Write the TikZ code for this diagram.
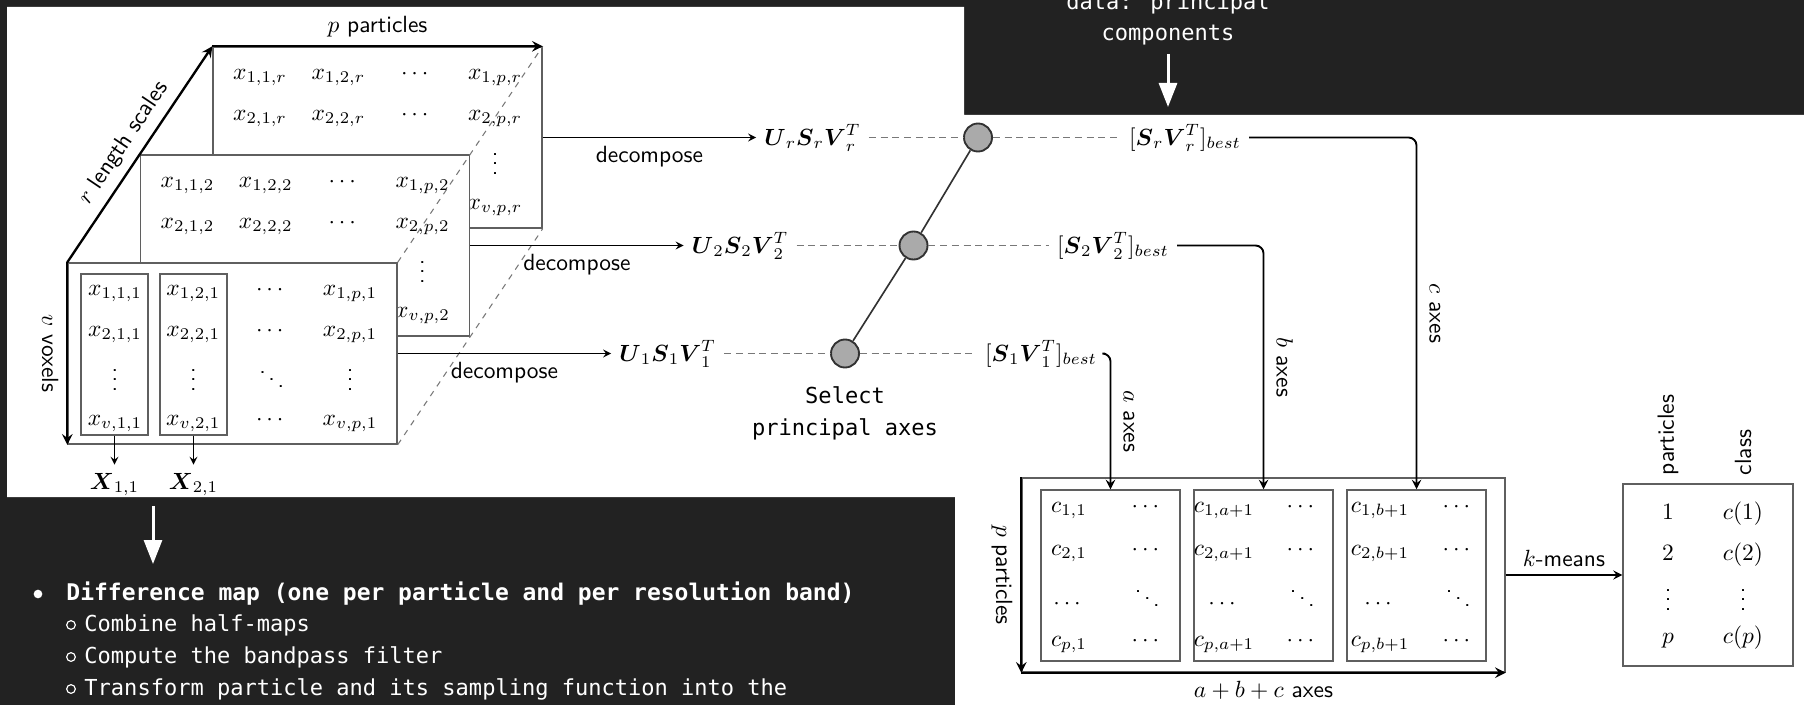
\documentclass[tikz,border=0pt]{standalone}
\usepackage{amsmath}
\usepackage{amssymb}
\usepackage{fontspec}
\newfontfamily\slidefont{DejaVu Sans Mono}
\usepackage{tikz}
\usetikzlibrary{arrows,arrows.meta,shapes,positioning}
\usepackage{xcolor}
\definecolor{slidebg}{RGB}{34,34,34}
\definecolor{boxgray}{RGB}{95,95,95}
\definecolor{dashgray}{RGB}{120,120,120}
\definecolor{pickgray}{RGB}{170,170,170}
\definecolor{rimgray}{RGB}{50,50,50}
\tikzstyle{arrow} = [->, >=stealth, line width=0.5pt]
\tikzstyle{axisarrow} = [->, >=stealth, line width=1pt]
\tikzstyle{link} = [->, >=stealth, line width=0.8pt, rounded corners=0.12cm]
\tikzstyle{slab} = [rectangle, draw=boxgray, fill=white, line width=0.6pt, minimum width=4.935cm, minimum height=2.715cm, inner sep=0pt]
\tikzstyle{colbox} = [rectangle, draw=boxgray, line width=0.6pt, minimum width=1.005cm, minimum height=2.415cm, inner sep=0pt]
\tikzstyle{cbox} = [rectangle, draw=boxgray, line width=0.6pt, minimum width=2.085cm, minimum height=2.565cm, inner sep=0pt]
\tikzstyle{frame} = [rectangle, draw=boxgray, line width=0.6pt, inner sep=0pt]
\tikzstyle{entry} = [text height=1.5ex, text depth=0.5ex, inner sep=0pt, node distance=1.175cm]
\tikzstyle{diag} = [draw=dashgray, dash pattern=on 2.5pt off 2.5pt, line width=0.45pt]
\tikzstyle{guide} = [draw=dashgray, dash pattern=on 3pt off 2pt, line width=0.5pt]
\tikzstyle{stick} = [draw=rimgray, line width=0.7pt]
\tikzstyle{pick} = [circle, draw=rimgray, fill=pickgray, line width=0.8pt, minimum size=0.42cm, inner sep=0pt]
\tikzstyle{axlabel} = [text height=1.6ex, text depth=0.2ex]
\tikzstyle{slidetext} = [text=white, inner sep=0pt, font=\slidefont\fontsize{9.4pt}{13.7pt}\selectfont]
\tikzstyle{slidearrow} = [draw=white, line width=0.045cm, -{Triangle[width=0.27cm, length=0.36cm, fill=white]}]
\tikzstyle{dot} = [circle, inner sep=0pt, minimum size=0.13cm]

\begin{document}
\begin{tikzpicture}[x=0.015cm, y=-0.015cm, font=\sffamily]
\useasboundingbox (0,0) rectangle (1804,705);
\clip (0,0) rectangle (1804,705);
% slide background
\fill[slidebg] (0,0) rectangle (1804,705);
\fill[white] (7,7) -- (964,7) -- (964,115) -- (1804,115) -- (1804,705) -- (955,705) -- (955,497) -- (7,497) -- cycle;

% back slab, length scale r
\node (lr) [slab] at (377.5,137.5) {};
\node (r11) [entry] at (260,74) {$x_{1,1,r}$};
\node (r12) [entry, right of=r11] {$x_{1,2,r}$};
\node (r13) [entry, right of=r12] {$\cdots$};
\node (r14) [entry, right of=r13] {$x_{1,p,r}$};
\node (r21) [entry] at (260,115) {$x_{2,1,r}$};
\node (r22) [entry, right of=r21] {$x_{2,2,r}$};
\node (r23) [entry, right of=r22] {$\cdots$};
\node (r24) [entry, right of=r23] {$x_{2,p,r}$};
\node (r34) [entry] at (495,169) {$\vdots$};
\node (r44) [entry] at (495,204) {$x_{v,p,r}$};

% middle slab, length scale 2
\node (l2) [slab] at (305,245.5) {};
\node (m11) [entry] at (187.5,182) {$x_{1,1,2}$};
\node (m12) [entry, right of=m11] {$x_{1,2,2}$};
\node (m13) [entry, right of=m12] {$\cdots$};
\node (m14) [entry, right of=m13] {$x_{1,p,2}$};
\node (m21) [entry] at (187.5,223) {$x_{2,1,2}$};
\node (m22) [entry, right of=m21] {$x_{2,2,2}$};
\node (m23) [entry, right of=m22] {$\cdots$};
\node (m24) [entry, right of=m23] {$x_{2,p,2}$};
\node (m34) [entry] at (422.5,277) {$\vdots$};
\node (m44) [entry] at (422.5,312) {$x_{v,p,2}$};

% front slab, length scale 1
\node (l1) [slab] at (232.5,353.5) {};
\node (fcol1) [colbox] at (114.5,354.5) {};
\node (fcol2) [colbox] at (193.5,354.5) {};
\node (f11) [entry] at (115,290) {$x_{1,1,1}$};
\node (f12) [entry, right of=f11] {$x_{1,2,1}$};
\node (f13) [entry, right of=f12] {$\cdots$};
\node (f14) [entry, right of=f13] {$x_{1,p,1}$};
\node (f21) [entry] at (115,331) {$x_{2,1,1}$};
\node (f22) [entry, right of=f21] {$x_{2,2,1}$};
\node (f23) [entry, right of=f22] {$\cdots$};
\node (f24) [entry, right of=f23] {$x_{2,p,1}$};
\node (f31) [entry] at (115,385) {$\vdots$};
\node (f32) [entry, right of=f31] {$\vdots$};
\node (f33) [entry, right of=f32] {$\ddots$};
\node (f34) [entry, right of=f33] {$\vdots$};
\node (f41) [entry] at (115,420) {$x_{v,1,1}$};
\node (f42) [entry, right of=f41] {$x_{v,2,1}$};
\node (f43) [entry, right of=f42] {$\cdots$};
\node (f44) [entry, right of=f43] {$x_{v,p,1}$};

\node (X11) [below=0.435cm of fcol1] {$\boldsymbol{X}_{1,1}$};
\node (X21) [below=0.435cm of fcol2] {$\boldsymbol{X}_{2,1}$};
\draw[arrow] (fcol1) -- (X11);
\draw[arrow] (fcol2) -- (X21);

\draw[diag] (l1.north east) -- (lr.north east);
\draw[diag] (l1.south east) -- (lr.south east);

\draw[axisarrow] (l1.north west) -- (lr.north west) node[midway, above, sloped] {$r$ length scales};
\draw[axisarrow] (lr.north west) -- (lr.north east) node[midway, above] {$p$ particles};
\draw[axisarrow] (l1.north west) -- (l1.south west) node[midway, below, sloped] {$v$ voxels};

% decompositions
\node (usvr) [right=3.2cm of lr] {$\boldsymbol{U}_r\boldsymbol{S}_r\boldsymbol{V}_r^T$};
\node (usv2) [right=3.2cm of l2] {$\boldsymbol{U}_2\boldsymbol{S}_2\boldsymbol{V}_2^T$};
\node (usv1) [right=3.2cm of l1] {$\boldsymbol{U}_1\boldsymbol{S}_1\boldsymbol{V}_1^T$};
\draw[arrow] (lr) -- (usvr) node[midway, below] {decompose};
\draw[arrow] (l2) -- (usv2) node[midway, below] {decompose};
\draw[arrow] (l1) -- (usv1) node[midway, below] {decompose};

\node (cr) [pick] at (978,137.5) {};
\node (c2) [pick] at (913.5,245.5) {};
\node (c1) [pick] at (845,353.5) {};
\draw[stick] (c1) -- (c2);
\draw[stick] (c2) -- (cr);
\node (sel) [below=0.27cm of c1, align=center, font=\slidefont\fontsize{9.4pt}{13.7pt}\selectfont, inner sep=0pt] {Select\\principal axes};

\node (bestr) at (1185,137.5) {$[\boldsymbol{S}_r\boldsymbol{V}_r^T]_{best}$};
\node (best2) at (1113,245.5) {$[\boldsymbol{S}_2\boldsymbol{V}_2^T]_{best}$};
\node (best1) at (1041,353.5) {$[\boldsymbol{S}_1\boldsymbol{V}_1^T]_{best}$};
\draw[guide] (usvr) -- (cr);
\draw[guide] (usv2) -- (c2);
\draw[guide] (usv1) -- (c1);
\draw[guide] (cr) -- (bestr);
\draw[guide] (c2) -- (best2);
\draw[guide] (c1) -- (best1);

% reduced data
\node (outer) [frame, minimum width=7.245cm, minimum height=2.91cm] at (1263.5,575) {};
\node (b1) [cbox] at (1110.5,575.5) {};
\node (b2) [cbox, right of=b1, node distance=2.295cm] {};
\node (b3) [cbox, right of=b2, node distance=2.295cm] {};

\draw[link] (bestr) -| (b3) node[pos=0.75, sloped, above=1pt, axlabel] {$c$ axes};
\draw[link] (best2) -| (b2) node[pos=0.75, sloped, above=1pt, axlabel] {$b$ axes};
\draw[link] (best1) -| (b1) node[pos=0.75, sloped, above=1pt, axlabel] {$a$ axes};

\node (a11) [entry] at (1069,507) {$c_{1,1}$};
\node (a12) [entry, right of=a11] {$\cdots$};
\node (a21) [entry] at (1069,550) {$c_{2,1}$};
\node (a22) [entry, right of=a21] {$\cdots$};
\node (a31) [entry] at (1069,604) {$\cdots$};
\node (a32) [entry, right of=a31] {$\ddots$};
\node (a41) [entry] at (1069,641) {$c_{p,1}$};
\node (a42) [entry, right of=a41] {$\cdots$};

\node (e11) [entry] at (1224,507) {$c_{1,a+1}$};
\node (e12) [entry, right of=e11] {$\cdots$};
\node (e21) [entry] at (1224,550) {$c_{2,a+1}$};
\node (e22) [entry, right of=e21] {$\cdots$};
\node (e31) [entry] at (1224,604) {$\cdots$};
\node (e32) [entry, right of=e31] {$\ddots$};
\node (e41) [entry] at (1224,641) {$c_{p,a+1}$};
\node (e42) [entry, right of=e41] {$\cdots$};

\node (g11) [entry] at (1380,507) {$c_{1,b+1}$};
\node (g12) [entry, right of=g11] {$\cdots$};
\node (g21) [entry] at (1380,550) {$c_{2,b+1}$};
\node (g22) [entry, right of=g21] {$\cdots$};
\node (g31) [entry] at (1380,604) {$\cdots$};
\node (g32) [entry, right of=g31] {$\ddots$};
\node (g41) [entry] at (1380,641) {$c_{p,b+1}$};
\node (g42) [entry, right of=g41] {$\cdots$};

\draw[axisarrow] (outer.north west) -- (outer.south west) node[midway, below, sloped] {$p$ particles};
\draw[axisarrow] (outer.south west) -- (outer.south east) node[midway, below] {$a+b+c$ axes};

% classes
\node (tab) [frame, minimum width=2.55cm, minimum height=2.73cm] at (1708,575) {};
\draw[arrow, line width=0.7pt] (outer) -- (tab) node[midway, above] {$k$-means};
\node (t11) [entry] at (1668,514) {$1$};
\node (t12) [entry, right of=t11, node distance=1.125cm] {$c(1)$};
\node (t21) [entry] at (1668,555) {$2$};
\node (t22) [entry, right of=t21, node distance=1.125cm] {$c(2)$};
\node (t31) [entry] at (1668,605) {$\vdots$};
\node (t32) [entry, right of=t31, node distance=1.125cm] {$\vdots$};
\node (t41) [entry] at (1668,638) {$p$};
\node (t42) [entry, right of=t41, node distance=1.125cm] {$c(p)$};
\node (hpart) [rotate=90, anchor=west] at (t11 |- tab.north) {particles};
\node (hclass) [rotate=90, anchor=west] at (t12 |- tab.north) {class};

% slide overlays
\node (datap) [slidetext] at (1168,3.5) {data: principal};
\node (comp) [slidetext] at (1168,35.5) {components};
\coordinate (comptip) at (1168,107);
\draw[slidearrow, shorten <=0.12cm] (comp) -- (comptip);

\coordinate (mapsrc) at (153,506);
\coordinate (maptip) at (153,564);
\draw[slidearrow] (mapsrc) -- (maptip);
\node (bul0) [dot, fill=white] at (38,594) {};
\node (diff) [slidetext, anchor=west, font=\slidefont\bfseries\fontsize{9.8pt}{13.7pt}\selectfont] at (66,594) {Difference map (one per particle and per resolution band)};
\node (bul1) [dot, draw=white, line width=0.5pt] at (71,625) {};
\node (comb) [slidetext, anchor=west] at (84,625) {Combine half-maps};
\node (bul2) [dot, draw=white, line width=0.5pt] at (71,657) {};
\node (band) [slidetext, anchor=west] at (84,657) {Compute the bandpass filter};
\node (bul3) [dot, draw=white, line width=0.5pt] at (71,689) {};
\node (trans) [slidetext, anchor=west] at (84,689) {Transform particle and its sampling function into the};
\end{tikzpicture}
\end{document}
